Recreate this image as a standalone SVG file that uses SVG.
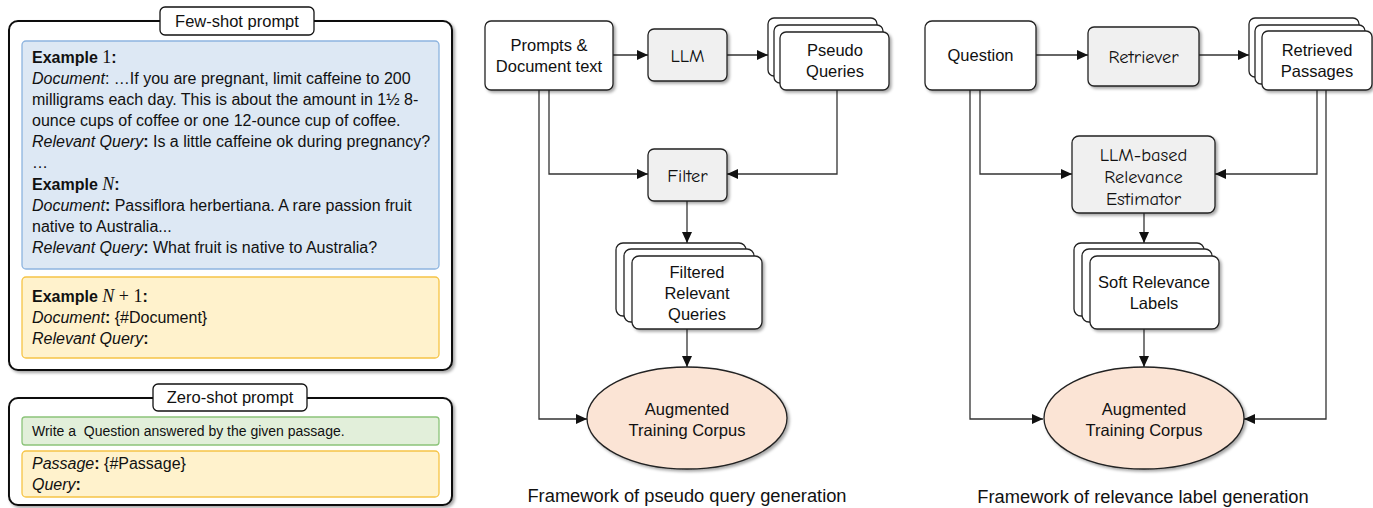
<svg xmlns="http://www.w3.org/2000/svg" width="1373" height="508" viewBox="0 0 1373 508">
<style>
text{font-family:"Liberation Sans","Noto Sans",sans-serif;fill:#111}
.p{font-size:16px}
.b{font-weight:bold}
.i{font-style:italic}
.m{font-family:"Liberation Serif","DejaVu Serif",serif;font-size:18px}
.n{font-size:16.5px;text-anchor:middle}
.c{font-family:"Comic Sans MS","Comic Neue","DejaVu Sans",sans-serif;font-size:18.5px;text-anchor:middle}
.cap{font-size:18.3px;text-anchor:middle}
.outer{fill:#fff;stroke:#111;stroke-width:2}
.tbox{fill:#fff;stroke:#111;stroke-width:1.3}
.box{fill:#fff;stroke:#222;stroke-width:1.3}
.gbox{fill:#f0f0f0;stroke:#222;stroke-width:1.3}
.blue{fill:#dde8f4;stroke:#8db4df;stroke-width:1.3}
.yel{fill:#fff2cc;stroke:#f6c445;stroke-width:1.3}
.grn{fill:#e2efda;stroke:#8cc47a;stroke-width:1.3}
.ell{fill:#fbe4d5;stroke:#222;stroke-width:1.3}
.con{fill:none;stroke:#333;stroke-width:1.3;marker-end:url(#ah)}
</style>
<defs>
<filter id="sh" x="-10%" y="-10%" width="130%" height="130%">
<feDropShadow dx="2" dy="2" stdDeviation="1.5" flood-color="#000" flood-opacity="0.35"/>
</filter>
<marker id="ah" markerUnits="userSpaceOnUse" markerWidth="12" markerHeight="10" refX="11" refY="5" orient="auto">
<path d="M0,0 L11,5 L0,10 Z" fill="#111"/>
</marker>
</defs>

<g id="few-shot">
<rect class="outer" x="9" y="21" width="443" height="349" rx="9" filter="url(#sh)"/>
<rect class="tbox" x="160" y="7" width="154" height="28" rx="5"/>
<text x="237" y="27" class="n">Few-shot prompt</text>
<rect class="blue" x="22" y="41" width="417" height="228" rx="4"/>
<text class="p" x="32" y="63"><tspan class="b">Example </tspan><tspan class="m">1</tspan><tspan class="b">:</tspan></text>
<text class="p" x="32" y="84"><tspan class="i">Document</tspan>: …If you are pregnant, limit caffeine to 200</text>
<text class="p" x="32" y="105">milligrams each day. This is about the amount in 1½ 8-</text>
<text class="p" x="32" y="126">ounce cups of coffee or one 12-ounce cup of coffee.</text>
<text class="p" x="32" y="147"><tspan class="i">Relevant Query</tspan><tspan class="b">:</tspan> Is a little caffeine ok during pregnancy?</text>
<text class="p" x="32" y="168">…</text>
<text class="p" x="32" y="190"><tspan class="b">Example </tspan><tspan class="m i">N</tspan><tspan class="b">:</tspan></text>
<text class="p" x="32" y="211"><tspan class="i">Document</tspan><tspan class="b">:</tspan> Passiflora herbertiana. A rare passion fruit</text>
<text class="p" x="32" y="232">native to Australia...</text>
<text class="p" x="32" y="253"><tspan class="i">Relevant Query</tspan><tspan class="b">:</tspan> What fruit is native to Australia?</text>
<rect class="yel" x="22" y="277" width="417" height="81" rx="4"/>
<text class="p" x="32" y="302"><tspan class="b">Example </tspan><tspan class="m i">N</tspan><tspan class="m"> + 1</tspan><tspan class="b">:</tspan></text>
<text class="p" x="32" y="323"><tspan class="i">Document</tspan><tspan class="b">:</tspan> {#Document}</text>
<text class="p" x="32" y="344"><tspan class="i">Relevant Query</tspan><tspan class="b">:</tspan></text>
</g>

<g id="zero-shot">
<rect class="outer" x="9" y="398" width="443" height="107" rx="9" filter="url(#sh)"/>
<rect class="tbox" x="153" y="384" width="154" height="27" rx="5"/>
<text x="230" y="403" class="n">Zero-shot prompt</text>
<rect class="grn" x="22" y="417" width="417" height="28" rx="3"/>
<text x="32" y="436" style="font-size:14px;white-space:pre" xml:space="preserve">Write a  Question answered by the given passage.</text>
<rect class="yel" x="22" y="451" width="417" height="46" rx="4"/>
<text class="p" x="32" y="469"><tspan class="i">Passage</tspan><tspan class="b">:</tspan> {#Passage}</text>
<text class="p" x="32" y="490"><tspan class="i">Query</tspan><tspan class="b">:</tspan></text>
</g>

<g id="connectors">
<path class="con" d="M613,55 H648"/>
<path class="con" d="M727,55 H768"/>
<path class="con" d="M549,90 V174 H648"/>
<path class="con" d="M837,90 V174 H727"/>
<path class="con" d="M539,90 V419 H587"/>
<path class="con" d="M687,201 V243"/>
<path class="con" d="M687,329 V367"/>
<path class="con" d="M1036,55 H1088"/>
<path class="con" d="M1199,55 H1249"/>
<path class="con" d="M980,90 V174 H1072"/>
<path class="con" d="M970,90 V419 H1043"/>
<path class="con" d="M1317,90 V174 H1215"/>
<path class="con" d="M1326,90 V419 H1244"/>
<path class="con" d="M1144,213 V243"/>
<path class="con" d="M1144,329 V367"/>
</g>

<g id="prompts-doc">
<rect class="box" x="485" y="21" width="128" height="69" rx="6" filter="url(#sh)"/>
<text class="n" x="549" y="51">Prompts &amp;</text>
<text class="n" x="549" y="72">Document text</text>
</g>
<g id="llm">
<rect class="gbox" x="648" y="29" width="79" height="52" rx="6" filter="url(#sh)"/>
<text class="c" x="687.5" y="62">LLM</text>
</g>
<g id="pseudo-queries">
<rect class="box" x="768" y="18" width="109" height="58" rx="6"/>
<rect class="box" x="774" y="25" width="109" height="58" rx="6"/>
<rect class="box" x="780" y="32" width="109" height="58" rx="6" filter="url(#sh)"/>
<text class="n" x="835" y="56">Pseudo</text>
<text class="n" x="835" y="77">Queries</text>
</g>
<g id="filter">
<rect class="gbox" x="648" y="149" width="79" height="52" rx="6" filter="url(#sh)"/>
<text class="c" x="687.5" y="182">Filter</text>
</g>
<g id="filtered-queries">
<rect class="box" x="616" y="243" width="130" height="73" rx="7"/>
<rect class="box" x="624" y="249" width="130" height="73" rx="7"/>
<rect class="box" x="632" y="256" width="130" height="73" rx="7" filter="url(#sh)"/>
<text class="n" x="697" y="278">Filtered</text>
<text class="n" x="697" y="299">Relevant</text>
<text class="n" x="697" y="320">Queries</text>
</g>
<g id="corpus-1">
<ellipse class="ell" cx="687" cy="418" rx="100" ry="51" filter="url(#sh)"/>
<text class="n" x="687" y="415">Augmented</text>
<text class="n" x="687" y="436">Training Corpus</text>
</g>
<text class="cap" x="687" y="502">Framework of pseudo query generation</text>

<g id="question">
<rect class="box" x="925" y="21" width="111" height="69" rx="7" filter="url(#sh)"/>
<text class="n" x="980.5" y="61">Question</text>
</g>
<g id="retriever">
<rect class="gbox" x="1088" y="27" width="111" height="59" rx="6" filter="url(#sh)"/>
<text class="c" x="1143.5" y="63">Retriever</text>
</g>
<g id="retrieved-passages">
<rect class="box" x="1249" y="18" width="110" height="59" rx="6"/>
<rect class="box" x="1255" y="25" width="110" height="59" rx="6"/>
<rect class="box" x="1262" y="31" width="110" height="59" rx="6" filter="url(#sh)"/>
<text class="n" x="1317" y="56">Retrieved</text>
<text class="n" x="1317" y="77">Passages</text>
</g>
<g id="estimator">
<rect class="gbox" x="1072" y="136" width="143" height="77" rx="7" filter="url(#sh)"/>
<text class="c" x="1143.5" y="161">LLM-based</text>
<text class="c" x="1143.5" y="183">Relevance</text>
<text class="c" x="1143.5" y="205">Estimator</text>
</g>
<g id="soft-labels">
<rect class="box" x="1074" y="243" width="130" height="73" rx="7"/>
<rect class="box" x="1082" y="249" width="130" height="73" rx="7"/>
<rect class="box" x="1090" y="256" width="129" height="73" rx="7" filter="url(#sh)"/>
<text class="n" x="1154" y="288">Soft Relevance</text>
<text class="n" x="1154" y="309">Labels</text>
</g>
<g id="corpus-2">
<ellipse class="ell" cx="1144" cy="418" rx="100" ry="51" filter="url(#sh)"/>
<text class="n" x="1144" y="415">Augmented</text>
<text class="n" x="1144" y="436">Training Corpus</text>
</g>
<text class="cap" x="1143" y="503">Framework of relevance label generation</text>
</svg>
